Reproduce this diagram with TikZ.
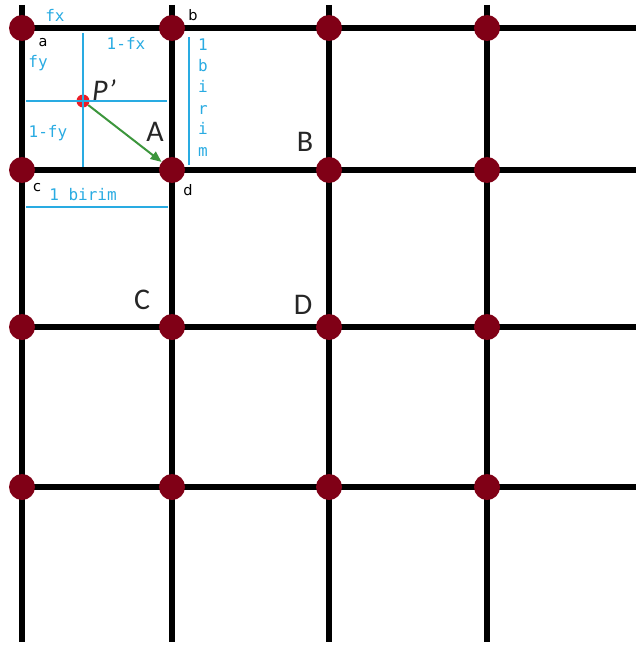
\documentclass[tikz,border=0pt]{standalone}
\usepackage{fontspec}
\setmainfont{Carlito}
\newfontfamily\codefont{DejaVu Sans Mono}
\newfontfamily\cornerfont{DejaVu Sans}
\usetikzlibrary{arrows.meta}
\definecolor{gridred}{RGB}{128,0,22}
\definecolor{guideblue}{RGB}{41,171,226}
\definecolor{arrowgreen}{RGB}{60,150,60}
\definecolor{pointred}{RGB}{235,30,40}

\begin{document}
\begin{tikzpicture}[x=1pt,y=-1pt,
  gridline/.style={line width=6pt,black},
  dot/.style={circle,fill=gridred,inner sep=0pt,minimum size=26pt},
  guide/.style={guideblue,line width=1.3pt},
  unit/.style={text=guideblue,font=\codefont\fontsize{16}{16}\selectfont,inner sep=0pt},
  corner/.style={font=\cornerfont\fontsize{14.5}{14.5}\selectfont,inner sep=0pt},
  big/.style={font=\fontsize{30}{30}\selectfont,text=black!85,inner sep=0pt}]
\useasboundingbox (0,0) rectangle (636,650);

% grid lines
\foreach \x [count=\i] in {22,172,329,487} {
  \coordinate (top-\i) at (\x,5);
  \coordinate (bot-\i) at (\x,642);
  \draw[gridline] (top-\i) -- (bot-\i);
}
\foreach \y [count=\j] in {28,170,327,487} {
  \coordinate (left-\j) at (22,\y);
  \coordinate (right-\j) at (636,\y);
  \draw[gridline] (left-\j) -- (right-\j);
}

% grid points
\foreach \x [count=\i] in {22,172,329,487}
  \foreach \y [count=\j] in {28,170,327,487}
    \node[dot] (n-\i-\j) at (\x,\y) {};

% point P'
\node[circle,fill=pointred,inner sep=0pt,minimum size=13pt] (pp) at (83,101) {};
\draw[arrowgreen,line width=2pt,-{Triangle[length=11pt,width=9pt]}] (pp) -- (n-2-2);

% blue guides
\coordinate (gv-top) at (83,33);
\coordinate (gv-bot) at (83,167);
\coordinate (gh-left) at (26,101);
\coordinate (gh-right) at (167,101);
\coordinate (uv-top) at (189,37);
\coordinate (uv-bot) at (189,165);
\coordinate (uh-left) at (26,207);
\coordinate (uh-right) at (168,207);
\draw[guide] (gv-top) -- (gv-bot);
\draw[guide] (gh-left) -- (gh-right);
\draw[guide] (uv-top) -- (uv-bot);
\draw[guide] (uh-left) -- (uh-right);

% labels
\node[unit] (fx) at (55,15) {fx};
\node[unit] (one-fx) at (126,43) {1-fx};
\node[unit] (fy) at (38,63) {fy};
\node[unit] (one-fy) at (48,133) {1-fy};
\node[unit] (birim) at (83,195) {1 birim};
\foreach \ch/\yy in {1/51,b/72,i/93,r/114,i/135,m/156}
  \node[unit,anchor=base] at (203,\yy) {\ch};

\node[corner] (ca) at (43,43) {a};
\node[corner] (cb) at (193,15) {b};
\node[corner] (cc) at (37,188) {c};
\node[corner] (cd) at (188,190) {d};

\node[big] (lA) at (155,132) {A};
\node[big] (lB) at (305,142) {B};
\node[big] (lC) at (142,300) {C};
\node[big] (lD) at (303,305) {D};
\node[big,font=\itshape\fontsize{30}{30}\selectfont] (lP) at (104,90) {P’};
\end{tikzpicture}
\end{document}
